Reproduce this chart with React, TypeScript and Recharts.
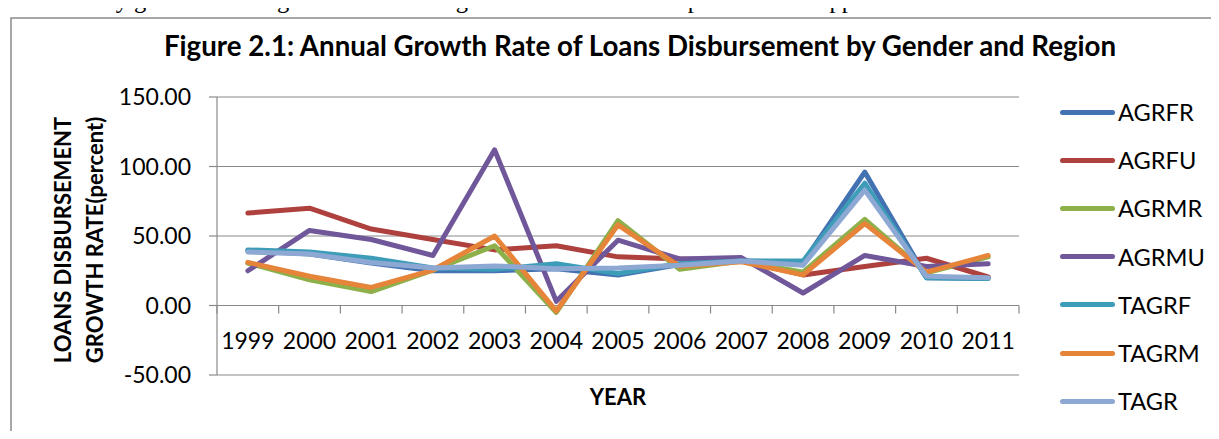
import React from 'react';
import { LineChart, Line, XAxis, YAxis, CartesianGrid, Legend, ReferenceLine } from 'recharts';

const years = [1999, 2000, 2001, 2002, 2003, 2004, 2005, 2006, 2007, 2008, 2009, 2010, 2011];

const AGRFR = [39.5, 37, 30.5, 25, 25, 26.5, 22, 29.5, 32, 31, 96, 20, 19.5];
const AGRFU = [66.5, 70, 55, 47.5, 40, 43, 35, 33.5, 32.5, 22, 28, 34, 20.5];
const AGRMR = [30.5, 18.5, 10, 25.5, 43, -5, 61, 26, 32, 24, 62, 23.5, 35];
const AGRMU = [25, 54, 47.5, 36, 112, 3, 47, 33.5, 34.5, 9, 36, 28, 30];
const TAGRF = [40, 38.5, 34, 27, 26, 30, 23, 30, 32, 32, 88, 20, 19.5];
const TAGRM = [31, 21, 13, 25.5, 50, -4, 58, 28, 31.5, 22, 59, 24, 36];
const TAGR = [38.5, 37, 31, 27, 28.5, 26.5, 27, 29, 32, 29, 83, 21, 20];

const seriesNames = ['AGRFR', 'AGRFU', 'AGRMR', 'AGRMU', 'TAGRF', 'TAGRM', 'TAGR'];
const seriesValues = [AGRFR, AGRFU, AGRMR, AGRMU, TAGRF, TAGRM, TAGR];
const seriesColors = ['#4372B2', '#AE413E', '#8DB04A', '#70579A', '#3D9CB8', '#E6843A', '#8EA8D4'];

const yTicks = [-50, 0, 50, 100, 150];

const data = years.map((year, i) => {
  const row: Record<string, number> = { year };
  seriesNames.forEach((n, k) => {
    row[n] = seriesValues[k][i];
  });
  return row;
});

const boundaries = [...years.map((y) => y - 0.5), years[years.length - 1] + 0.5];

const FONT = 'Lato, "Open Sans", sans-serif';
const GRID = '#8a8a8a';

const XTick = (props: any) => {
  const { x, y, payload } = props;
  return (
    <text x={x} y={y - 26} textAnchor="middle" fontFamily={FONT} fontSize={23} fill="#000">
      {payload.value}
    </text>
  );
};

const renderLegend = (props: any) => {
  const payload = [...(props.payload || [])].sort(
    (a: any, b: any) => seriesNames.indexOf(a.value) - seriesNames.indexOf(b.value)
  );
  return (
    <div style={{ display: 'flex', flexDirection: 'column' }}>
      {payload.map((p: any) => (
        <div key={p.value} style={{ display: 'flex', alignItems: 'center', height: 48.2 }}>
          <div style={{ width: 55, height: 5, borderRadius: 3, background: p.color }} />
          <span style={{ marginLeft: 3, fontFamily: FONT, fontSize: 23.6, color: '#000', lineHeight: '24px' }}>
            {p.value}
          </span>
        </div>
      ))}
    </div>
  );
};

export default function App() {
  return (
    <div style={{ position: 'relative', width: 1219, height: 439, margin: -8, overflow: 'hidden', background: '#fff' }}>
      <svg width={1219} height={439} style={{ position: 'absolute', left: 0, top: 0 }}>
        <text x={-2} y={8} fontFamily='"Liberation Serif", "Times New Roman", serif' fontSize={24.5} fill="#000">
          borrowers by genders and regions have been figured out with the data presented in Appendix B of this article.
        </text>
        <rect x={11} y={18} width={1400} height={700} fill="none" stroke={GRID} strokeWidth={1.5} />
        <text x={640} y={56} textAnchor="middle" fontFamily={FONT} fontWeight="bold" fontSize={27.7} fill="#000">
          Figure 2.1: Annual Growth Rate of Loans Disbursement by Gender and Region
        </text>
        <text x={-240} y={70.7} transform="rotate(-90)" textAnchor="middle" fontFamily={FONT} fontWeight="bold" fontSize={22} fill="#000">
          LOANS DISBURSEMENT
        </text>
        <text x={-240} y={102.7} transform="rotate(-90)" textAnchor="middle" fontFamily={FONT} fontWeight="bold" fontSize={22} fill="#000">
          GROWTH RATE(percent)
        </text>
        <text x={618} y={405} textAnchor="middle" fontFamily={FONT} fontWeight="bold" fontSize={22} fill="#000">
          YEAR
        </text>
      </svg>
      <div style={{ position: 'absolute', left: 0, top: 0 }}>
        <LineChart width={1219} height={439} data={data} margin={{ top: 97, right: 200, bottom: 0, left: 117 }}>
          <CartesianGrid horizontal vertical={false} stroke={GRID} strokeWidth={1.2} />
          <XAxis
            dataKey="year"
            type="number"
            domain={[boundaries[0], boundaries[boundaries.length - 1]]}
            ticks={years}
            interval={0}
            axisLine={false}
            tickLine={false}
            tickSize={0}
            tickMargin={0}
            height={64}
            tick={<XTick />}
          />
          <YAxis
            domain={[-50, 150]}
            ticks={yTicks}
            interval={0}
            width={100}
            tickSize={8}
            tickMargin={18}
            allowDataOverflow
            tickFormatter={(v: number) => v.toFixed(2)}
            axisLine={{ stroke: GRID, strokeWidth: 1.2 }}
            tickLine={{ stroke: GRID, strokeWidth: 1.2 }}
            tick={{ fontFamily: FONT, fontSize: 23, fill: '#000' }}
          />
          {boundaries.map((b) => (
            <ReferenceLine
              key={'b' + b}
              segment={[{ x: b, y: 0 }, { x: b, y: -5.8 }]}
              stroke={GRID}
              strokeWidth={1.2}
            />
          ))}
          {seriesNames.map((n, k) => (
            <Line
              key={n}
              dataKey={n}
              name={n}
              type="linear"
              stroke={seriesColors[k]}
              strokeWidth={5}
              strokeLinecap="round"
              strokeLinejoin="round"
              dot={false}
              activeDot={false}
              isAnimationActive={false}
            />
          ))}
          <Legend
            layout="vertical"
            align="center"
            verticalAlign="middle"
            wrapperStyle={{ left: 1060, top: 88, width: 159 }}
            content={renderLegend}
          />
        </LineChart>
      </div>
    </div>
  );
}
